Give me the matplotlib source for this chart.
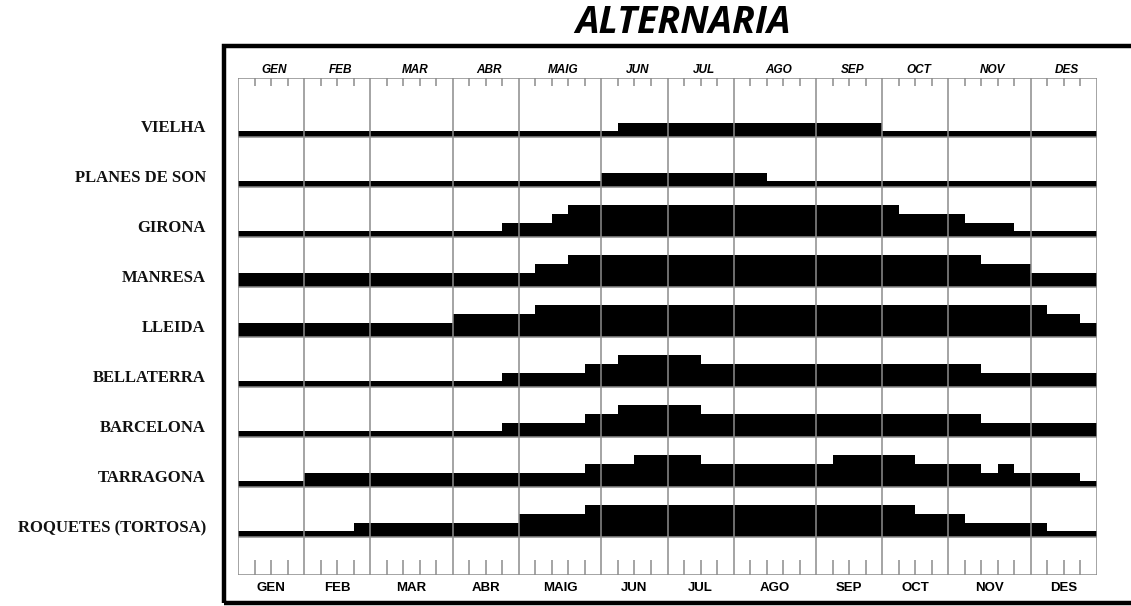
import matplotlib
matplotlib.use('Agg')
import matplotlib.pyplot as plt
from matplotlib.patches import Rectangle
import numpy as np

# mesos i nombre de setmanes de cada mes (eix x en setmanes, 52 en total)
MONTHS = ['GEN', 'FEB', 'MAR', 'ABR', 'MAIG', 'JUN', 'JUL', 'AGO', 'SEP', 'OCT', 'NOV', 'DES']
WEEKS_PER_MONTH = [4, 4, 5, 4, 5, 4, 4, 5, 4, 4, 5, 4]

STATIONS = ['VIELHA', 'PLANES DE SON', 'GIRONA', 'MANRESA', 'LLEIDA',
            'BELLATERRA', 'BARCELONA', 'TARRAGONA', 'ROQUETES (TORTOSA)']

# nivell (classe 1-4) per trams: (setmana d'inici, nivell)
VIELHA = [(0, 1), (23, 2), (39, 1)]
PLANES_DE_SON = [(0, 1), (22, 2), (32, 1)]
GIRONA = [(0, 1), (16, 2), (19, 3), (20, 4), (40, 3), (44, 2), (47, 1)]
MANRESA = [(0, 2), (18, 3), (20, 4), (45, 3), (48, 2)]
LLEIDA = [(0, 2), (13, 3), (18, 4), (49, 3), (51, 2)]
BELLATERRA = [(0, 1), (16, 2), (21, 3), (23, 4), (28, 3), (45, 2)]
BARCELONA = [(0, 1), (16, 2), (21, 3), (23, 4), (28, 3), (45, 2)]
TARRAGONA = [(0, 1), (4, 2), (21, 3), (24, 4), (28, 3), (36, 4), (41, 3),
             (45, 2), (46, 3), (47, 2), (51, 1)]
ROQUETES = [(0, 1), (7, 2), (17, 3), (21, 4), (41, 3), (44, 2), (49, 1)]

RUNS = [VIELHA, PLANES_DE_SON, GIRONA, MANRESA, LLEIDA,
        BELLATERRA, BARCELONA, TARRAGONA, ROQUETES]

# alçada de cada nivell (en unitats de fila)
LEVEL_H = {1: 0.12, 2: 0.29, 3: 0.465, 4: 0.64}

N_WEEKS = sum(WEEKS_PER_MONTH)
Y_TOP = 9.94
GRID = '#8c8c8c'


def expand(runs):
    lv = np.zeros(N_WEEKS, dtype=int)
    for k, (start, level) in enumerate(runs):
        end = runs[k + 1][0] if k + 1 < len(runs) else N_WEEKS
        lv[start:end] = level
    return lv


W, H = 1131, 606
fig = plt.figure(figsize=(W / 100, H / 100), dpi=100)
ax = fig.add_axes([238 / W, 31 / H, 859 / W, 497 / H])
ax.set_xlim(0, N_WEEKS)
ax.set_ylim(0, Y_TOP)
ax.axis('off')

month_edges = np.concatenate([[0], np.cumsum(WEEKS_PER_MONTH)])
edges = np.arange(N_WEEKS + 1)

# ===== barres =====
baselines = []
for i, (name, runs) in enumerate(zip(STATIONS, RUNS)):
    base = Y_TOP - 1.18 - i
    baselines.append(base)
    h = np.array([LEVEL_H[v] for v in expand(runs)])
    h = np.append(h, h[-1])
    ax.fill_between(edges, base, base + h, step='post', color='black',
                    linewidth=0, zorder=2)
    ax.text(-1.95, base + 0.18, name, ha='right', va='center',
            fontsize=12, fontweight='bold', family=['Liberation Serif', 'DejaVu Serif'],
            color='#111111', clip_on=False)

# ===== graella =====
ax.vlines(month_edges, 0, Y_TOP, color=GRID, linewidth=1.1, zorder=3)
ax.hlines(baselines + [0, Y_TOP], 0, N_WEEKS, color=GRID, linewidth=1.1, zorder=3)

# marques setmanals
week_ticks = [w for w in range(1, N_WEEKS) if w not in month_edges]
ax.vlines(week_ticks, Y_TOP - 0.16, Y_TOP, color=GRID, linewidth=1.1, zorder=3)
ax.vlines(week_ticks, 0, 0.3, color=GRID, linewidth=1.1, zorder=3)

# ===== etiquetes de mesos =====
centers = (month_edges[:-1] + month_edges[1:]) / 2
for c, m in zip(centers, MONTHS):
    ax.text(c + 0.2, Y_TOP + 0.16, m, ha='center', va='center', fontsize=8.5,
            fontweight='bold', fontstyle='italic',
            family=['Liberation Sans', 'DejaVu Sans'], clip_on=False)
    ax.text(c, -0.26, m, ha='center', va='center', fontsize=9.5,
            fontweight='bold', family=['Liberation Sans Narrow', 'Liberation Sans', 'DejaVu Sans'],
            clip_on=False)

# ===== marc exterior =====
fig.add_artist(Rectangle((224 / W, (H - 602.5) / H), 930 / W, 557 / H,
                         transform=fig.transFigure, fill=False,
                         edgecolor='black', linewidth=3.2, clip_on=False))

# ===== títol =====
fig.text(683 / W, 1 - 23 / H, 'ALTERNARIA', ha='center', va='center',
         fontsize=27, fontweight='bold', fontstyle='italic',
         family=['Open Sans', 'Liberation Sans', 'DejaVu Sans'])

plt.savefig('out.png', dpi=100)
